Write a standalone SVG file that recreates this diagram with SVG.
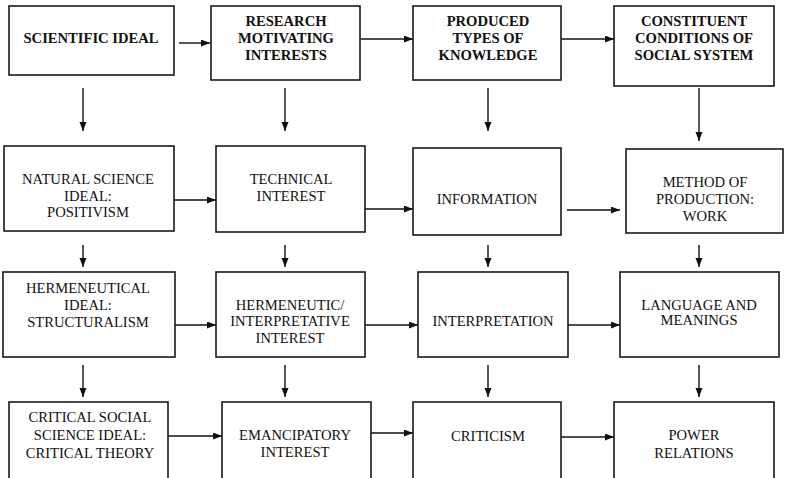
<svg xmlns="http://www.w3.org/2000/svg" width="786" height="478" viewBox="0 0 786 478">
<style>
.box{fill:#fff;stroke:#1a1a1a;stroke-width:1.6}
.t{font-family:"Liberation Serif","Times New Roman",serif;font-size:14.6px;fill:#111;text-anchor:middle}
.b{font-weight:bold}
.c{stroke:#111;stroke-width:1.4;fill:none;marker-end:url(#ah)}
</style>
<defs>
<marker id="ah" markerUnits="userSpaceOnUse" markerWidth="10" markerHeight="8" refX="9" refY="3.5" orient="auto">
<path d="M0,0 L9,3.5 L0,7 z" fill="#111"/>
</marker>
</defs>
<rect width="786" height="478" fill="#fff"/>
<g id="connectors">
<line class="c" x1="179" y1="43" x2="210" y2="43"/>
<line class="c" x1="361" y1="39" x2="413" y2="39"/>
<line class="c" x1="561" y1="39" x2="614" y2="39"/>
<line class="c" x1="174" y1="200" x2="216" y2="200"/>
<line class="c" x1="365" y1="209" x2="413" y2="209"/>
<line class="c" x1="567" y1="210" x2="620" y2="210"/>
<line class="c" x1="175" y1="325" x2="216" y2="325"/>
<line class="c" x1="365" y1="325" x2="418" y2="325"/>
<line class="c" x1="568" y1="325" x2="620" y2="325"/>
<line class="c" x1="168" y1="436" x2="222" y2="436"/>
<line class="c" x1="371" y1="433" x2="413" y2="433"/>
<line class="c" x1="561" y1="437" x2="614" y2="437"/>
<line class="c" x1="83" y1="88" x2="83" y2="131"/>
<line class="c" x1="285" y1="88" x2="285" y2="131"/>
<line class="c" x1="488" y1="88" x2="488" y2="131"/>
<line class="c" x1="699" y1="88" x2="699" y2="141"/>
<line class="c" x1="83" y1="245" x2="83" y2="267"/>
<line class="c" x1="285" y1="245" x2="285" y2="267"/>
<line class="c" x1="488" y1="245" x2="488" y2="267"/>
<line class="c" x1="699" y1="245" x2="699" y2="267"/>
<line class="c" x1="83" y1="365" x2="83" y2="397"/>
<line class="c" x1="285" y1="365" x2="285" y2="397"/>
<line class="c" x1="488" y1="365" x2="488" y2="397"/>
<line class="c" x1="699" y1="365" x2="699" y2="397"/>
</g>
<g id="n-scientific"><rect class="box" x="9" y="6" width="165" height="69"/><text class="t b" x="91" y="43">SCIENTIFIC IDEAL</text></g>
<g id="n-research"><rect class="box" x="211" y="6" width="149" height="74"/><text class="t b" x="286" y="26">RESEARCH</text><text class="t b" x="286" y="43">MOTIVATING</text><text class="t b" x="286" y="60">INTERESTS</text></g>
<g id="n-produced"><rect class="box" x="413" y="6" width="148" height="74"/><text class="t b" x="488" y="26">PRODUCED</text><text class="t b" x="488" y="43">TYPES OF</text><text class="t b" x="488" y="60">KNOWLEDGE</text></g>
<g id="n-constituent"><rect class="box" x="614" y="6" width="160" height="80"/><text class="t b" x="694" y="26">CONSTITUENT</text><text class="t b" x="694" y="43">CONDITIONS OF</text><text class="t b" x="694" y="60">SOCIAL SYSTEM</text></g>
<g id="n-natural"><rect class="box" x="4" y="146" width="170" height="85"/><text class="t" x="88" y="184">NATURAL SCIENCE</text><text class="t" x="88" y="201">IDEAL:</text><text class="t" x="88" y="217">POSITIVISM</text></g>
<g id="n-technical"><rect class="box" x="216" y="146" width="149" height="86"/><text class="t" x="291" y="184">TECHNICAL</text><text class="t" x="291" y="201">INTEREST</text></g>
<g id="n-information"><rect class="box" x="413" y="148" width="148" height="87"/><text class="t" x="487" y="204">INFORMATION</text></g>
<g id="n-method"><rect class="box" x="626" y="149" width="157" height="84"/><text class="t" x="705" y="187">METHOD OF</text><text class="t" x="705" y="204">PRODUCTION:</text><text class="t" x="705" y="221">WORK</text></g>
<g id="n-hermeneutical"><rect class="box" x="3" y="272" width="172" height="85"/><text class="t" x="88" y="293">HERMENEUTICAL</text><text class="t" x="88" y="310">IDEAL:</text><text class="t" x="88" y="327">STRUCTURALISM</text></g>
<g id="n-hermeneutic"><rect class="box" x="216" y="272" width="149" height="85"/><text class="t" x="290" y="310">HERMENEUTIC/</text><text class="t" x="290" y="326">INTERPRETATIVE</text><text class="t" x="290" y="343">INTEREST</text></g>
<g id="n-interpretation"><rect class="box" x="418" y="272" width="150" height="85"/><text class="t" x="493" y="326">INTERPRETATION</text></g>
<g id="n-language"><rect class="box" x="620" y="272" width="159" height="85"/><text class="t" x="699" y="310">LANGUAGE AND</text><text class="t" x="699" y="325">MEANINGS</text></g>
<g id="n-critical"><rect class="box" x="9" y="402" width="159" height="84"/><text class="t" x="90" y="422">CRITICAL SOCIAL</text><text class="t" x="90" y="440">SCIENCE IDEAL:</text><text class="t" x="90" y="458">CRITICAL THEORY</text></g>
<g id="n-emancipatory"><rect class="box" x="222" y="402" width="149" height="84"/><text class="t" x="295" y="440">EMANCIPATORY</text><text class="t" x="295" y="457">INTEREST</text></g>
<g id="n-criticism"><rect class="box" x="413" y="402" width="148" height="84"/><text class="t" x="488" y="441">CRITICISM</text></g>
<g id="n-power"><rect class="box" x="614" y="402" width="160" height="84"/><text class="t" x="694" y="440">POWER</text><text class="t" x="694" y="458">RELATIONS</text></g>
</svg>
